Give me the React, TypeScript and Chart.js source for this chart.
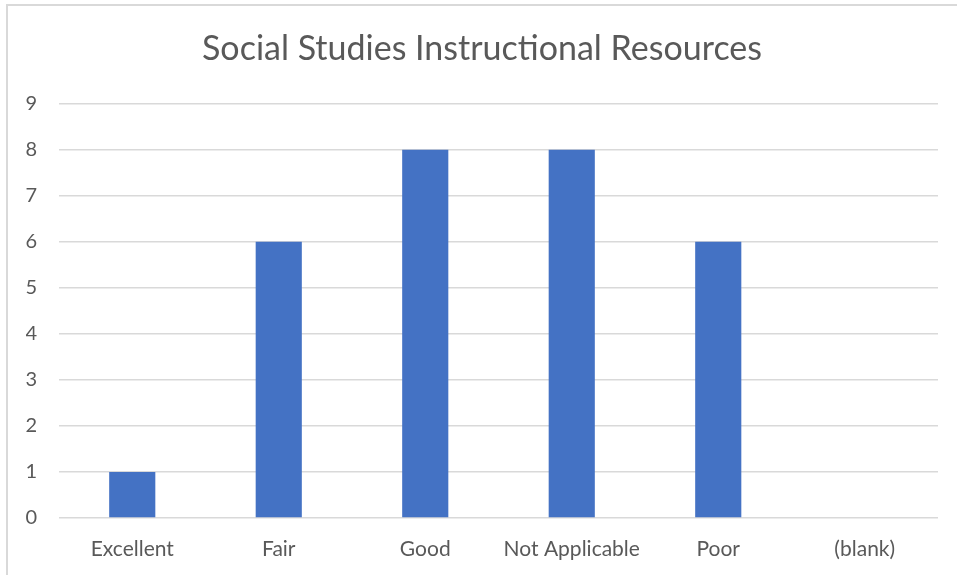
import React, { useEffect, useRef } from "react";
import { Chart, registerables } from "chart.js";

Chart.register(...registerables);

const categories = ["Excellent", "Fair", "Good", "Not Applicable", "Poor", "(blank)"];
const counts = [1, 6, 8, 8, 6, 0];
const yTicks = [0, 1, 2, 3, 4, 5, 6, 7, 8, 9];
const chartTitle = "Social Studies Instructional Resources";

const FONT = "Lato, 'Open Sans', sans-serif";

export default function App() {
  const ref = useRef<HTMLCanvasElement | null>(null);
  useEffect(() => {
    if (!ref.current) return;
    const chart = new Chart(ref.current, {
      type: "bar",
      data: {
        labels: categories,
        datasets: [
          {
            label: "Count",
            data: counts,
            backgroundColor: "#4472C4",
            borderWidth: 0,
            barPercentage: 0.315,
            categoryPercentage: 1,
          },
        ],
      },
      options: {
        animation: false,
        responsive: false,
        maintainAspectRatio: false,
        layout: { padding: { left: 26, right: 19, top: 29, bottom: 14 } },
        plugins: {
          legend: { display: false },
          tooltip: { enabled: false },
          title: {
            display: true,
            text: chartTitle,
            color: "#595959",
            font: { family: FONT, size: 34, weight: "normal" },
            padding: { top: 0, bottom: 34 },
          },
        },
        scales: {
          x: {
            grid: { display: false, drawTicks: false },
            border: { display: false },
            afterFit: (axis: any) => {
              axis.height = 43;
            },
            ticks: {
              color: "#595959",
              font: { family: FONT, size: 21 },
              padding: 19,
              maxRotation: 0,
              autoSkip: false,
            },
          },
          y: {
            min: 0,
            max: 9,
            afterBuildTicks: (axis: any) => {
              axis.ticks = yTicks.map((v) => ({ value: v }));
            },
            afterFit: (axis: any) => {
              axis.width = 33;
            },
            grid: { color: "#d9d9d9", lineWidth: 1.5, drawTicks: false },
            border: { display: false },
            ticks: {
              color: "#595959",
              font: { family: FONT, size: 20 },
              padding: 22,
            },
          },
        },
      },
    });
    return () => chart.destroy();
  }, []);
  return (
    <div style={{ position: "absolute", left: 0, top: 0, width: 957, height: 575, background: "#fff", overflow: "hidden" }}>
      <div
        style={{
          position: "absolute",
          left: 6,
          top: 4,
          width: 1000,
          height: 1000,
          borderLeft: "2px solid #d9d9d9",
          borderTop: "2px solid #d9d9d9",
          boxSizing: "border-box",
        }}
      />
      <canvas ref={ref} width={957} height={575} style={{ position: "absolute", left: 0, top: 0 }} />
    </div>
  );
}
